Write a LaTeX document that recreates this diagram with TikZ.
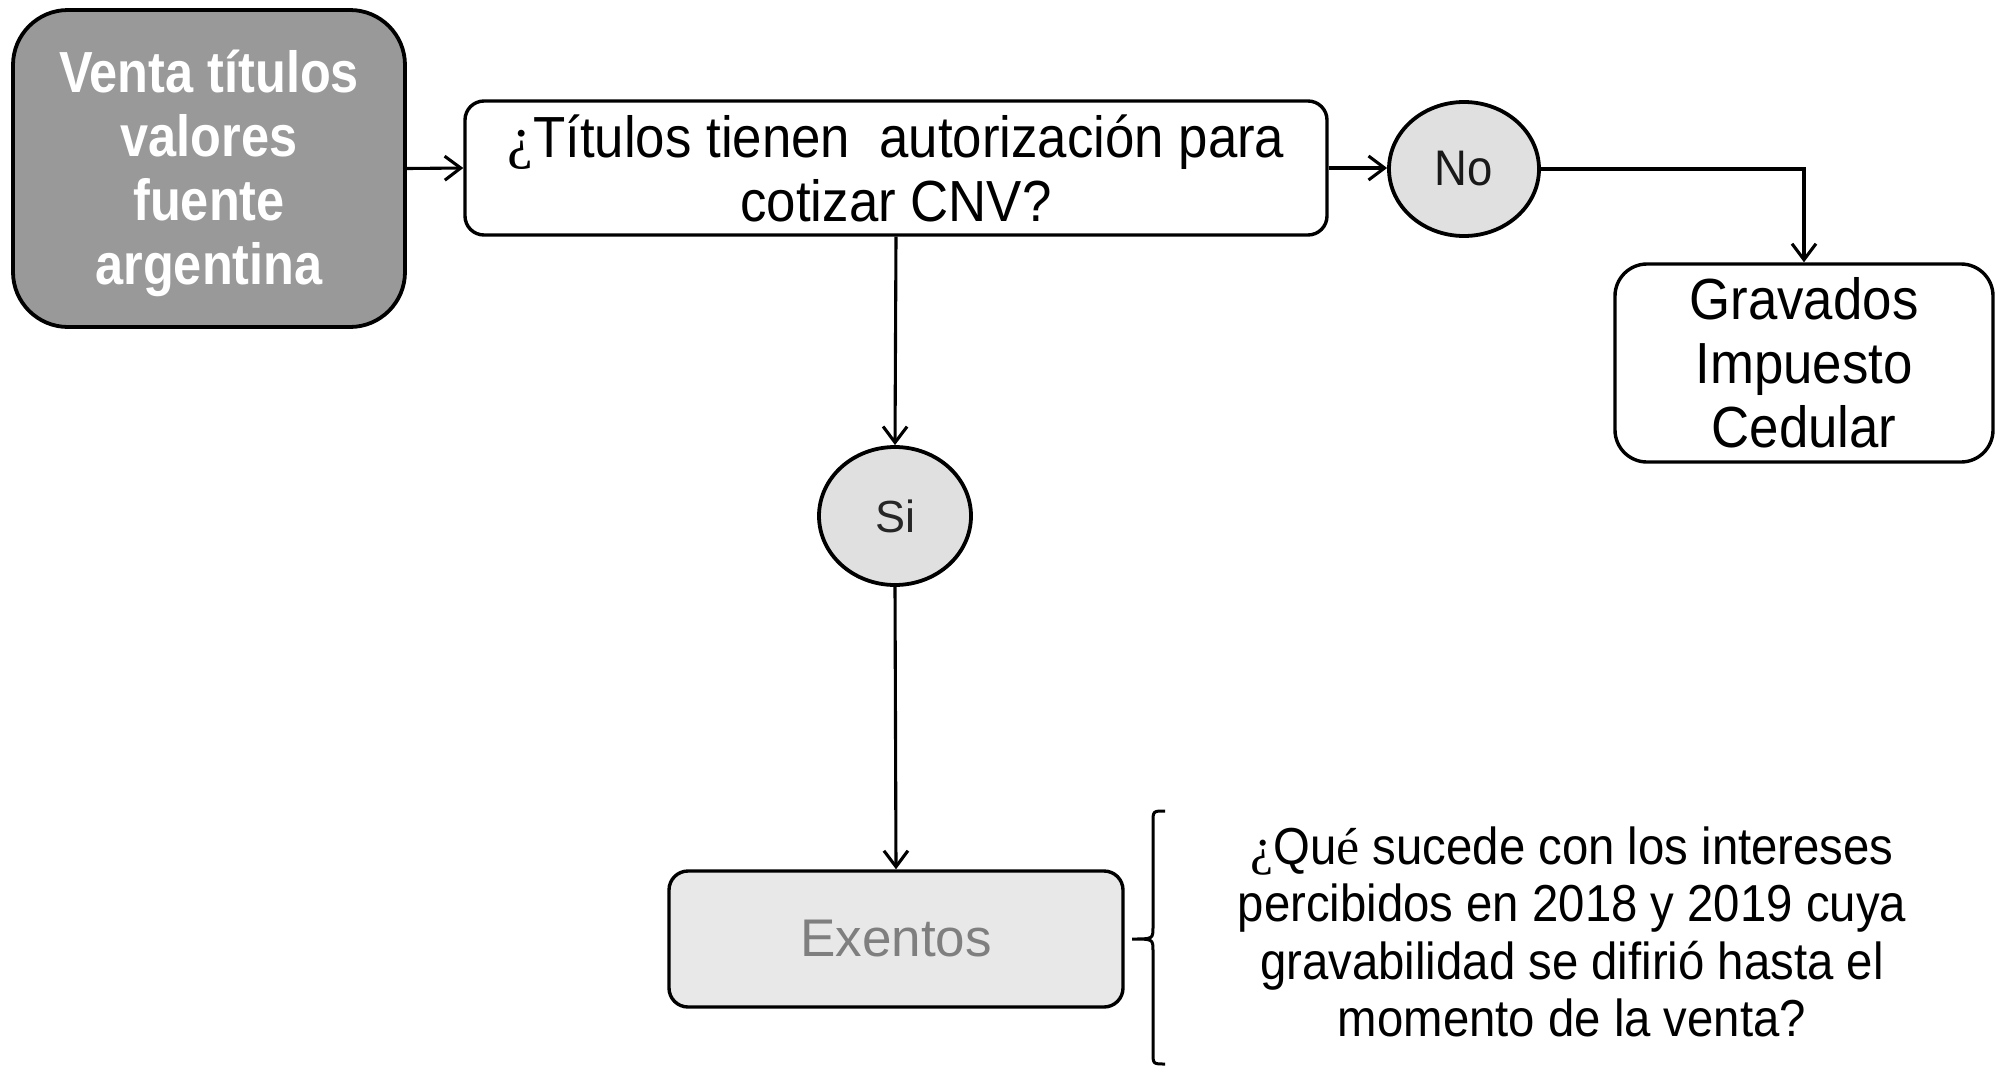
\documentclass[tikz,border=0pt]{standalone}
\usepackage{fontspec}
\setmainfont{Liberation Sans}
\newfontfamily\cond[FakeStretch=0.91]{Liberation Sans}
\newfontfamily\condbf[FakeStretch=0.87]{Liberation Sans}
\newfontfamily\serq{Liberation Serif}
\usetikzlibrary{arrows.meta,shapes.geometric}
\definecolor{darkfill}{HTML}{999999}
\definecolor{lightfill}{HTML}{E0E0E0}
\definecolor{exfill}{HTML}{E8E8E8}
\definecolor{extext}{HTML}{7F7F7F}
\tikzset{
  boxnode/.style={draw=black, line width=3.4pt, rounded corners=19pt, inner sep=0pt, align=center},
  ovalnode/.style={draw=black, line width=3.8pt, ellipse, fill=lightfill, inner sep=0pt},
  conn/.style={draw=black, line width=3.1pt, -{Straight Barb[length=16pt,width=24pt,line width=3.1pt]}},
  condtext/.style={font=\cond\fontsize{58}{64}\selectfont},
}
\begin{document}
\begin{tikzpicture}[x=1pt,y=-1pt]
\useasboundingbox (0,0) rectangle (2003,1066);
\node[boxnode, line width=3.8pt, rounded corners=55pt, fill=darkfill,
      minimum width=392pt, minimum height=317pt] (venta) at (209,168.5) {};
\node[align=center, inner sep=0pt, text=white,
      font=\condbf\bfseries\fontsize{58}{64}\selectfont] (ventatext) at ([yshift=-5pt]venta.center)
      {Venta títulos\\valores\\fuente\\argentina};
\node[boxnode, minimum width=862pt, minimum height=134pt, condtext] (q) at (896,168)
      {{\serq ¿}Títulos tienen\ \ autorización para\\cotizar CNV?};
\node[ovalnode, minimum width=150pt, minimum height=134pt,
      font=\cond\fontsize{50}{55}\selectfont, text=black!90] (no) at (1464,169) {No};
\node[boxnode, rounded corners=32pt, minimum width=378pt, minimum height=198pt, condtext] (grav) at (1804,363)
      {Gravados\\Impuesto\\Cedular};
\node[ovalnode, minimum width=152pt, minimum height=138pt,
      font=\fontsize{45}{50}\selectfont, text=black!85] (si) at (895,516) {Si};
\node[boxnode, fill=exfill, text=extext, minimum width=454pt, minimum height=136pt,
      font=\fontsize{53}{58}\selectfont] (ex) at (896,939) {Exentos};
\node[align=center, font=\cond\fontsize{52}{57.5}\selectfont, inner sep=0pt] (qt) at (1572,932)
      {{\serq ¿}Qu{\serq é} sucede con los intereses\\percibidos en 2018 y 2019 cuya\\gravabilidad se difirió hasta el\\momento de la venta?};
\draw[conn] (venta.east) -- (q.west);
\draw[conn] (q.east) -- (q.east -| no.west);
\draw[conn] (no.east) -| (grav.north);
\draw[conn] (q.south) -- (si.north);
\draw[conn] (si.south) -- (ex.north);
\coordinate (bt) at (1165,811);
\coordinate (bb) at (1165,1064);
\coordinate (bm) at (1132,939);
\draw[line width=3pt] (bt) .. controls (1153,811) .. (1153,823) -- (1153,927)
  .. controls (1153,939) .. (bm) .. controls (1153,939) .. (1153,951) -- (1153,1052)
  .. controls (1153,1064) .. (bb);
\end{tikzpicture}
\end{document}
